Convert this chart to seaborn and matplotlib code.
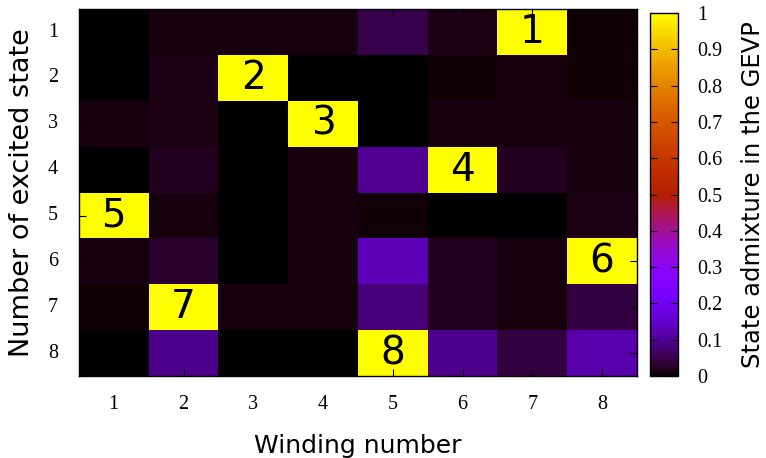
import numpy as np
import pandas as pd
import matplotlib
matplotlib.use("Agg")
import matplotlib.pyplot as plt
import seaborn as sns

# ================= DATA =================
WINDING = [1, 2, 3, 4, 5, 6, 7, 8]
STATES = [1, 2, 3, 4, 5, 6, 7, 8]

ROW_1 = [0.003, 0.010, 0.010, 0.010, 0.050, 0.015, 1.000, 0.005]
ROW_2 = [0.002, 0.012, 1.000, 0.001, 0.000, 0.005, 0.010, 0.005]
ROW_3 = [0.008, 0.012, 0.002, 1.000, 0.001, 0.008, 0.008, 0.008]
ROW_4 = [0.002, 0.020, 0.003, 0.008, 0.100, 1.000, 0.020, 0.008]
ROW_5 = [1.000, 0.010, 0.002, 0.008, 0.004, 0.002, 0.002, 0.012]
ROW_6 = [0.010, 0.030, 0.002, 0.010, 0.130, 0.020, 0.010, 1.000]
ROW_7 = [0.005, 1.000, 0.010, 0.010, 0.080, 0.020, 0.010, 0.040]
ROW_8 = [0.001, 0.090, 0.002, 0.003, 1.000, 0.090, 0.040, 0.120]

CBAR_TICKS = [0, 0.1, 0.2, 0.3, 0.4, 0.5, 0.6, 0.7, 0.8, 0.9, 1]
CBAR_LABELS = ["0", "0.1", "0.2", "0.3", "0.4", "0.5", "0.6", "0.7", "0.8", "0.9", "1"]
# =========================================

rows = [ROW_1, ROW_2, ROW_3, ROW_4, ROW_5, ROW_6, ROW_7, ROW_8]
df = pd.DataFrame(rows, index=STATES, columns=WINDING)

# label the dominant cell of each state with the state number
annot = np.full(df.shape, "", dtype=object)
for i, st in enumerate(STATES):
    j = int(np.argmax(df.loc[st].values))
    annot[i, j] = str(st)

sns.set_style("white")
plt.rcParams["text.color"] = "black"
plt.rcParams["axes.labelcolor"] = "black"
plt.rcParams["xtick.color"] = "black"
plt.rcParams["ytick.color"] = "black"
serif = ["Liberation Serif", "DejaVu Serif"]

fig = plt.figure(figsize=(7.66, 4.58), dpi=100)
ax = fig.add_axes([0.103, 0.179, 0.7285, 0.801])
cax = fig.add_axes([0.8486, 0.179, 0.0366, 0.7926])

sns.heatmap(
    df, ax=ax, cbar_ax=cax, cmap="gnuplot", vmin=0, vmax=1,
    annot=annot, fmt="",
    annot_kws={"fontsize": 28, "color": "black", "family": "DejaVu Sans"},
)

# gnuplot-style ticks drawn on top of the cells
ax.set_axisbelow(False)
cax.set_axisbelow(False)

for sp in ax.spines.values():
    sp.set_visible(True)
    sp.set_color("black")
    sp.set_linewidth(1.0)

ax.set_xticklabels(WINDING, rotation=0, family=serif, fontsize=14.5)
ax.set_yticklabels(STATES, rotation=0, family=serif, fontsize=14.5)
ax.tick_params(axis="both", direction="in", length=5, width=0.8, color="black",
               top=True, right=True, left=True, bottom=True)
ax.tick_params(axis="x", pad=14)
ax.tick_params(axis="y", pad=15)
ax.set_xlabel("Winding number", fontsize=18, labelpad=14)
ax.set_ylabel("Number of excited state", fontsize=19.5, labelpad=9)

cb = ax.collections[0].colorbar
cb.set_ticks(CBAR_TICKS)
cb.set_ticklabels(CBAR_LABELS)
cb.outline.set_visible(True)
cb.outline.set_edgecolor("black")
cb.outline.set_linewidth(1.0)
cax.tick_params(direction="in", length=5, width=0.8, color="black",
                left=True, right=True, labelsize=14.5, pad=14)
for t in cax.get_yticklabels():
    t.set_family(serif)
cb.set_label("State admixture in the GEVP", fontsize=17.5, labelpad=13)

fig.savefig("out.png", dpi=100)
